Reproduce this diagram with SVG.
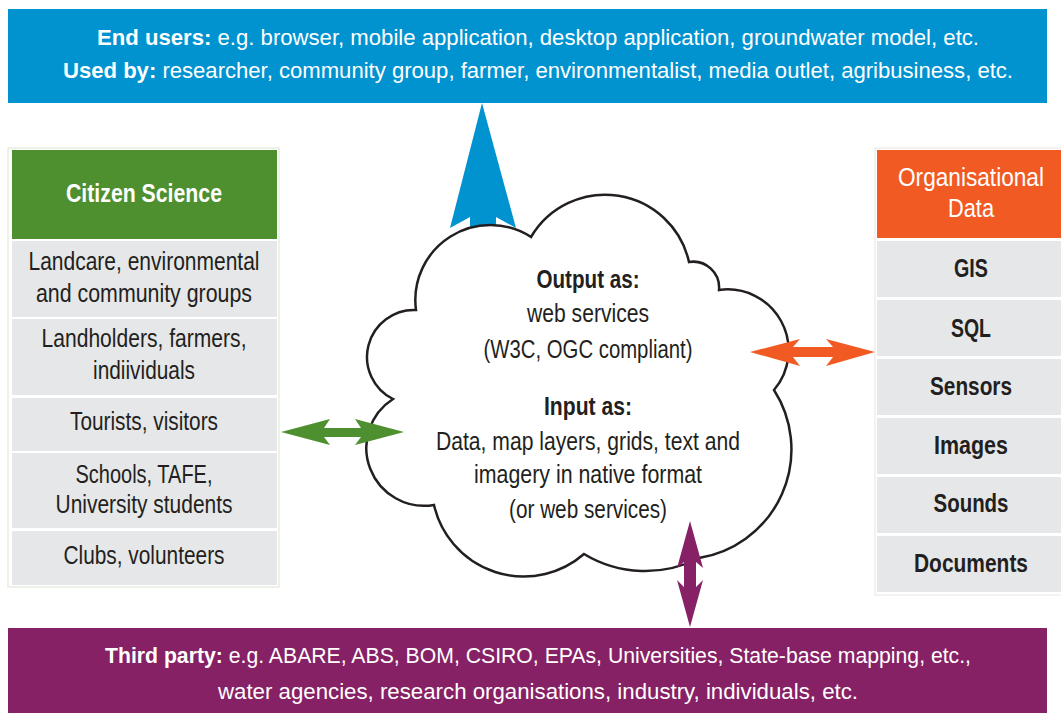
<svg xmlns="http://www.w3.org/2000/svg" width="1061" height="713" viewBox="0 0 1061 713">
<style>
.t{font-family:"Liberation Sans",Arial,sans-serif;fill:#231f20;font-size:25px;text-anchor:middle}
.w{fill:#ffffff}
.b{font-weight:bold}
.bn{font-family:"Liberation Sans",Arial,sans-serif;fill:#ffffff;font-size:22px}
.cell{fill:#e6e7e8}
.cloud{fill:#ffffff;stroke:#231f20;stroke-width:2.5;stroke-linejoin:miter}
</style>
<rect width="1061" height="713" fill="#ffffff"/>

<g id="connectors">
  <polygon id="arrow-up" fill="#0093d0" points="482,103 516,228 496,217 496,262 470,262 470,217 450,228"/>
</g>

<g id="end-users">
  <rect x="8" y="9" width="1039" height="94" fill="#0093d0"/>
  <text class="bn" x="97" y="45" textLength="882" lengthAdjust="spacingAndGlyphs"><tspan class="b">End users:</tspan> e.g. browser, mobile application, desktop application, groundwater model, etc.</text>
  <text class="bn" x="63" y="78" textLength="950" lengthAdjust="spacingAndGlyphs"><tspan class="b">Used by:</tspan> researcher, community group, farmer, environmentalist, media outlet, agribusiness, etc.</text>
</g>

<g id="citizen-science">
  <rect x="8" y="148" width="271" height="439" fill="none" stroke="#dce6d4" stroke-width="1"/>
  <rect x="12" y="150" width="265" height="89" fill="#4e9030"/>
  <text class="t w b" x="144" y="202" textLength="156" lengthAdjust="spacingAndGlyphs">Citizen Science</text>
  <rect class="cell" x="12" y="241" width="265" height="76"/>
  <text class="t" x="144" y="270" textLength="231" lengthAdjust="spacingAndGlyphs">Landcare, environmental</text>
  <text class="t" x="144" y="302" textLength="216" lengthAdjust="spacingAndGlyphs">and community groups</text>
  <rect class="cell" x="12" y="319" width="265" height="76"/>
  <text class="t" x="144" y="347" textLength="205" lengthAdjust="spacingAndGlyphs">Landholders, farmers,</text>
  <text class="t" x="144" y="379" textLength="102" lengthAdjust="spacingAndGlyphs">indiividuals</text>
  <rect class="cell" x="12" y="398" width="265" height="53"/>
  <text class="t" x="144" y="430" textLength="148" lengthAdjust="spacingAndGlyphs">Tourists, visitors</text>
  <rect class="cell" x="12" y="453" width="265" height="75"/>
  <text class="t" x="144" y="483" textLength="137" lengthAdjust="spacingAndGlyphs">Schools, TAFE,</text>
  <text class="t" x="144" y="513" textLength="177" lengthAdjust="spacingAndGlyphs">University students</text>
  <rect class="cell" x="12" y="531" width="265" height="54"/>
  <text class="t" x="144" y="564" textLength="161" lengthAdjust="spacingAndGlyphs">Clubs, volunteers</text>
</g>

<g id="organisational-data">
  <rect x="875" y="148" width="190" height="447" fill="none" stroke="#ece4e0" stroke-width="1"/>
  <rect x="877" y="150" width="184" height="88" fill="#f15a22"/>
  <text class="t w" x="971" y="186" textLength="146" lengthAdjust="spacingAndGlyphs">Organisational</text>
  <text class="t w" x="971" y="217" textLength="46" lengthAdjust="spacingAndGlyphs">Data</text>
  <rect class="cell" x="877" y="241" width="184" height="56"/>
  <text class="t b" x="971" y="277" textLength="34" lengthAdjust="spacingAndGlyphs">GIS</text>
  <rect class="cell" x="877" y="300" width="184" height="56"/>
  <text class="t b" x="971" y="337" textLength="40" lengthAdjust="spacingAndGlyphs">SQL</text>
  <rect class="cell" x="877" y="359" width="184" height="56"/>
  <text class="t b" x="971" y="395" textLength="82" lengthAdjust="spacingAndGlyphs">Sensors</text>
  <rect class="cell" x="877" y="418" width="184" height="56"/>
  <text class="t b" x="971" y="454" textLength="74" lengthAdjust="spacingAndGlyphs">Images</text>
  <rect class="cell" x="877" y="477" width="184" height="56"/>
  <text class="t b" x="971" y="512" textLength="75" lengthAdjust="spacingAndGlyphs">Sounds</text>
  <rect class="cell" x="877" y="536" width="184" height="56"/>
  <text class="t b" x="971" y="572" textLength="114" lengthAdjust="spacingAndGlyphs">Documents</text>
</g>

<g id="cloud">
  <path class="cloud" d="M416,310 A75,75 0 0 1 531,237 A86,86 0 0 1 689,262 A26,26 0 0 1 719,290 A61,61 0 0 1 774,390 A110,110 0 0 1 699,558 A118,118 0 0 1 584,554 A92,92 0 0 1 434,505 A58,58 0 0 1 393,399 A47,47 0 0 1 416,310 Z"/>
  <text class="t b" x="588" y="288" textLength="103" lengthAdjust="spacingAndGlyphs">Output as:</text>
  <text class="t" x="588" y="322" textLength="122" lengthAdjust="spacingAndGlyphs">web services</text>
  <text class="t" x="588" y="358" textLength="209" lengthAdjust="spacingAndGlyphs">(W3C, OGC compliant)</text>
  <text class="t b" x="588" y="415" textLength="88" lengthAdjust="spacingAndGlyphs">Input as:</text>
  <text class="t" x="588" y="450" textLength="304" lengthAdjust="spacingAndGlyphs">Data, map layers, grids, text and</text>
  <text class="t" x="588" y="483" textLength="228" lengthAdjust="spacingAndGlyphs">imagery in native format</text>
  <text class="t" x="588" y="518" textLength="158" lengthAdjust="spacingAndGlyphs">(or web services)</text>
</g>

<g id="third-party">
  <rect x="8" y="628" width="1039" height="85" fill="#862165"/>
  <text class="bn" x="105" y="663" textLength="866" lengthAdjust="spacingAndGlyphs"><tspan class="b">Third party:</tspan> e.g. ABARE, ABS, BOM, CSIRO, EPAs, Universities, State-base mapping, etc.,</text>
  <text class="bn" x="218" y="699" textLength="640" lengthAdjust="spacingAndGlyphs">water agencies, research organisations, industry, individuals, etc.</text>
</g>

<g id="connectors-front">
  <polygon id="arrow-green" fill="#4e9030" points="281,432 330,419 324,428 361,428 355,419 404,432 355,445 361,437 324,437 330,445"/>
  <polygon id="arrow-orange" fill="#f15a22" points="750,352 800,339 793,347 833,347 826,339 875,352 826,366 833,357 793,357 800,366"/>
  <polygon id="arrow-purple" fill="#862165" points="690,521 703,568 696,562 696,587 703,580 690,627 677,580 684,587 684,562 677,568"/>
</g>
</svg>
